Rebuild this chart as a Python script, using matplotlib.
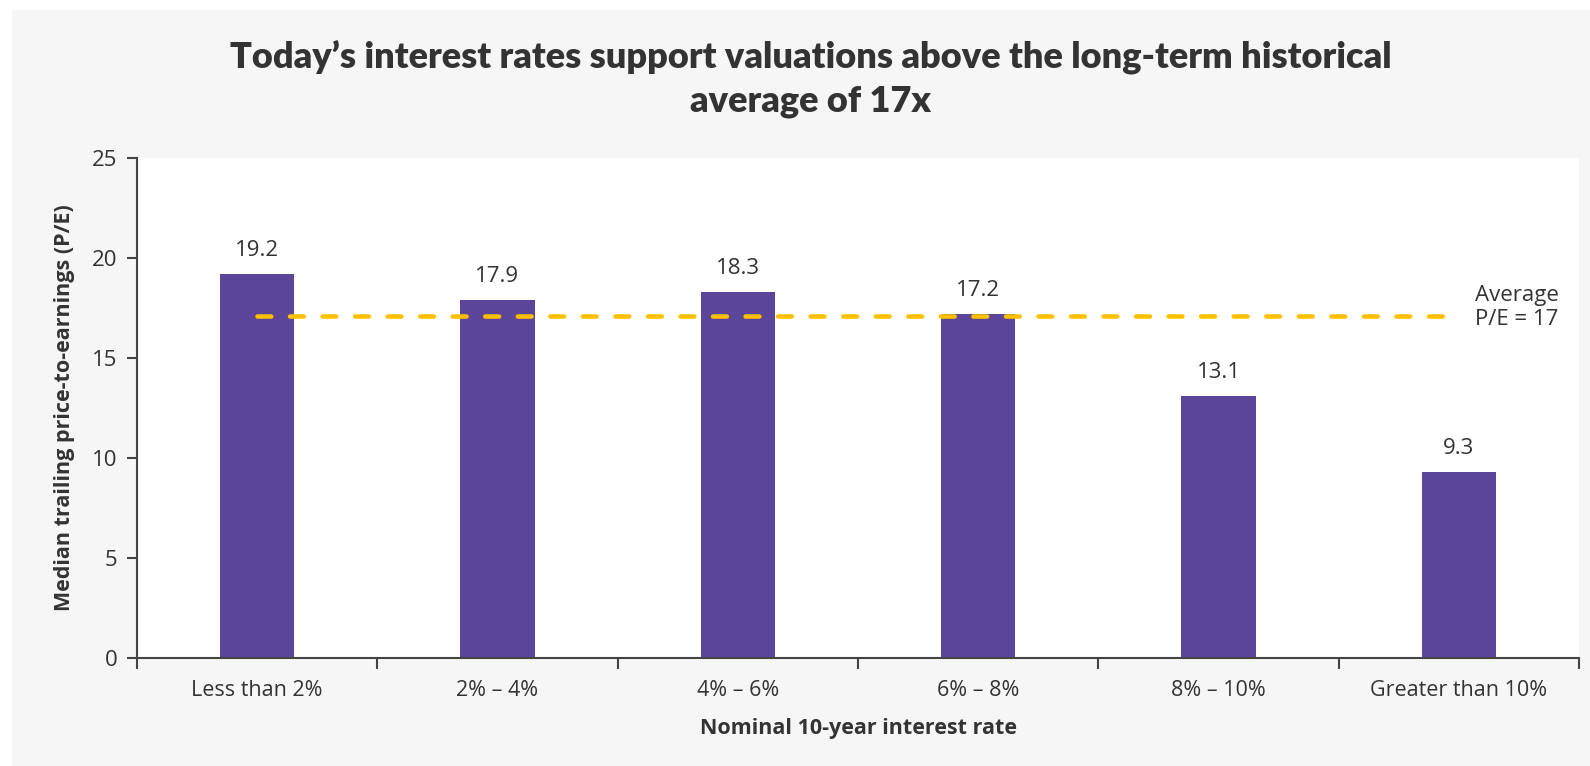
import matplotlib
matplotlib.use("Agg")
import matplotlib.pyplot as plt
from matplotlib.patches import Rectangle

categories = ["Less than 2%", "2% – 4%", "4% – 6%", "6% – 8%", "8% – 10%", "Greater than 10%"]
pe_values = [19.2, 17.9, 18.3, 17.2, 13.1, 9.3]
average_pe = 17.1
y_ticks = [0, 5, 10, 15, 20, 25]

title = "Today’s interest rates support valuations above the long-term historical\naverage of 17x"
ylabel = "Median trailing price-to-earnings (P/E)"
xlabel = "Nominal 10-year interest rate"
avg_label = "Average\nP/E = 17"

bar_color = "#5B4699"
avg_color = "#FFC000"
text_color = "#333333"
panel_color = "#F6F6F6"

body_font = ['Open Sans', 'DejaVu Sans']
plt.rcParams['font.family'] = body_font

W, H = 1590, 766
fig = plt.figure(figsize=(W / 100, H / 100), dpi=100)
fig.patch.set_facecolor("white")
fig.patches.append(Rectangle((12 / W, 0), 1 - 12 / W, 1 - 10 / H,
                             transform=fig.transFigure, facecolor=panel_color,
                             edgecolor="none", zorder=-10))

left, right = 137 / W, 1579 / W
bottom, top = 1 - 658 / H, 1 - 158 / H
ax = fig.add_axes([left, bottom, right - left, top - bottom])
ax.set_zorder(1)
ax.set_facecolor("white")

x = list(range(len(categories)))
ax.bar(x, pe_values, width=0.31, color=bar_color, zorder=2)
for xi, v in zip(x, pe_values):
    ax.annotate(f"{v:.1f}", (xi, v), xytext=(0, 9), textcoords="offset points",
                ha="center", va="bottom", fontsize=16, color=text_color)

ax.plot([x[0], x[-1]], [average_pe, average_pe], color=avg_color, lw=3.3,
        dashes=(3.0, 4.1), dash_capstyle="round", zorder=3)
ax.annotate(avg_label, (x[-1], average_pe), xytext=(12, 6), textcoords="offset points",
            ha="left", va="center", fontsize=16, color=text_color, linespacing=1.2)

ax.set_xlim(-0.5, len(categories) - 0.5)
ax.set_ylim(0, 25)
ax.set_yticks(y_ticks)
ax.set_yticklabels([str(t) for t in y_ticks], fontsize=16, color=text_color)
ax.set_xticks(x)
ax.set_xticklabels(categories, fontsize=15.5, color=text_color)
ax.tick_params(axis="x", length=0, pad=16)
ax.set_xticks([i - 0.5 for i in range(len(categories) + 1)], minor=True)
ax.tick_params(axis="x", which="minor", length=8, width=1.5, color="#444444")
ax.tick_params(axis="y", length=7, width=1.5, color="#444444", pad=7)

for s in ["top", "right"]:
    ax.spines[s].set_visible(False)
for s in ["left", "bottom"]:
    ax.spines[s].set_color("#444444")
    ax.spines[s].set_linewidth(1.5)

ax.set_ylabel(ylabel, fontsize=15.5, fontweight="bold", color=text_color, labelpad=12)
ax.set_xlabel(xlabel, fontsize=15.5, fontweight="bold", color=text_color, labelpad=12)

fig.text(811 / W, 1 - 79 / H, title, ha="center", va="center",
         fontsize=26, fontweight="heavy", color=text_color, linespacing=1.4,
         family=['Lato', 'DejaVu Sans'])

fig.savefig("out.png", dpi=100)
